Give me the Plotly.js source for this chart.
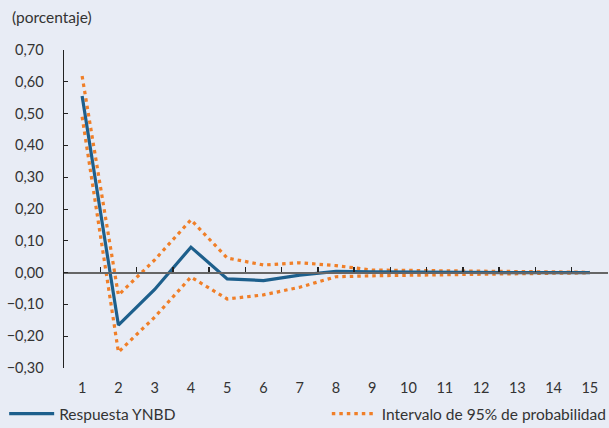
<!DOCTYPE html>
<html>
<head>
<meta charset="utf-8">
<script src="https://cdn.plot.ly/plotly-3.0.1.min.js"></script>
<style>html,body{margin:0;padding:0;background:#e8ecf5;}#chart{width:609px;height:428px;}</style>
</head>
<body>
<div id="chart"></div>
<script>
const periods = [1,2,3,4,5,6,7,8,9,10,11,12,13,14,15];
const respuesta = [0.555,-0.165,-0.053,0.080,-0.020,-0.025,-0.008,0.004,0.002,0.001,0.001,0.000,0.000,0.000,0.000];
const upper = [0.618,-0.071,0.040,0.166,0.046,0.024,0.031,0.022,0.008,0.007,0.006,0.004,0.003,0.002,0.001];
const lower = [0.490,-0.250,-0.140,-0.014,-0.083,-0.070,-0.046,-0.013,-0.010,-0.008,-0.006,-0.004,-0.003,-0.002,-0.001];
const yTicks = [-0.30,-0.20,-0.10,0.00,0.10,0.20,0.30,0.40,0.50,0.60,0.70];

const blue = '#1d5f8c', orange = '#f07f28';
const font = {family:'Lato, "Open Sans", sans-serif', size:14.5, color:'#333'};
const legFont = {family:'Lato, "Open Sans", sans-serif', size:15.5, color:'#333'};
const boundaries = [0.5].concat(periods.map(v=>v+0.5));
const traces = [
  {x:periods, y:upper, type:'scatter', mode:'lines', name:'Intervalo de 95% de probabilidad',
   line:{color:orange, width:3.2, dash:'3.5px,4px'}, legend:'legend2', legendgroup:'ci'},
  {x:periods, y:lower, type:'scatter', mode:'lines', name:'Intervalo de 95% de probabilidad',
   line:{color:orange, width:3.2, dash:'3.5px,4px'}, legend:'legend2', legendgroup:'ci', showlegend:false},
  {x:periods, y:respuesta, type:'scatter', mode:'lines', name:'Respuesta YNBD',
   line:{color:blue, width:3.2}, legend:'legend'},
  {x:periods, y:respuesta, type:'scatter', mode:'lines', xaxis:'x2', showlegend:false,
   hoverinfo:'skip', line:{width:0}, opacity:0}
];
const layout = {
  width:609, height:428,
  paper_bgcolor:'#e8ecf5', plot_bgcolor:'#e8ecf5',
  font:font,
  margin:{l:64, r:1, t:50, b:60, autoexpand:false},
  showlegend:true,
  xaxis:{range:[0.5,15.5], tickvals:periods, ticktext:periods.map(String), showline:false, showgrid:false,
         zeroline:false, ticks:'', ticklabelstandoff:9, tickfont:font, fixedrange:true},
  xaxis2:{overlaying:'x', anchor:'free', position:0.3, range:[0.5,15.5], tickvals:boundaries,
          showticklabels:false, showline:true, linecolor:'#666', linewidth:2, ticks:'inside', ticklen:5,
          tickcolor:'#222', tickwidth:1.5, showgrid:false, zeroline:false},
  yaxis:{range:[-0.30,0.70], tickvals:yTicks, tickformat:'.2f', showgrid:false, zeroline:false,
         showline:true, linecolor:'#222', linewidth:1.5, ticks:'inside', ticklen:4, tickcolor:'#222',
         ticklabelstandoff:16, tickfont:font},
  separators:',.',
  legend:{orientation:'h', x:-0.11, xanchor:'left', y:-0.145, yanchor:'middle', bgcolor:'rgba(0,0,0,0)', font:legFont, itemwidth:45},
  legend2:{orientation:'h', x:1.007, xanchor:'right', y:-0.145, yanchor:'middle', bgcolor:'rgba(0,0,0,0)', font:legFont, itemwidth:45},
  annotations:[{text:'(porcentaje)', xref:'paper', yref:'paper', x:-0.1, y:1.0, yshift:33, xanchor:'left', yanchor:'middle',
                showarrow:false, font:{family:'Lato, "Open Sans", sans-serif', size:15.5, color:'#333'}}]
};
Plotly.newPlot('chart', traces, layout, {displayModeBar:false, staticPlot:true});
</script>
</body>
</html>
